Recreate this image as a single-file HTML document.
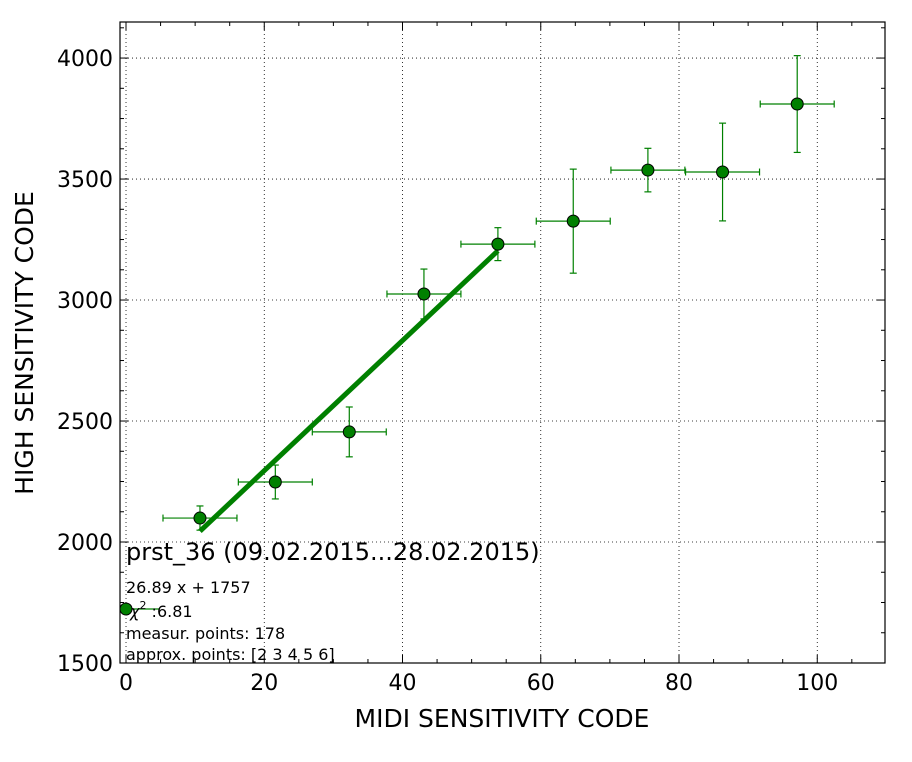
<!DOCTYPE html>
<html><head><meta charset="utf-8"><style>
body{margin:0;background:#fff;}
svg{display:block;font-family:"DejaVu Sans","Liberation Sans",sans-serif;}
</style></head><body>
<svg id="chart" width="912" height="762">
<rect width="912" height="762" fill="#fff"/>
<g id="grid"></g>
<g id="ticks"></g>
<g id="series"></g>
<rect x="120" y="22" width="765" height="641" fill="none" stroke="#000" stroke-width="1.2"/>
<text x="502" y="727" font-size="25" text-anchor="middle">MIDI SENSITIVITY CODE</text>
<text transform="translate(33,343) rotate(-90)" font-size="25" text-anchor="middle">HIGH SENSITIVITY CODE</text>
<g>
<text x="126" y="560" font-size="24">prst_36 (09.02.2015...28.02.2015)</text>
<text x="126" y="593" font-size="16">26.89 x + 1757</text>
<line x1="126" y1="609" x2="160" y2="609" stroke="#008000" stroke-width="1.2"/>
<circle cx="126" cy="609" r="6" fill="#008000" stroke="#000"/>
<text x="130" y="617" font-size="16"><tspan font-style="italic">χ</tspan><tspan dy="-8" font-size="11">2</tspan><tspan dy="8"> :6.81</tspan></text>
<text x="126" y="639" font-size="16">measur. points: 178</text>
<text x="126" y="660" font-size="16">approx. points: [2 3 4 5 6]</text>
</g>
</svg>
<script>
const xs=[10.7,21.6,32.3,43.1,53.8,64.7,75.5,86.3,97.1];
const ys=[2099,2248,2455,3025,3231,3326,3537,3529,3810];
const yerr=[50,70,103,103,68,215,90,202,200];
const xerr=[5.35,5.35,5.35,5.35,5.35,5.35,5.35,5.35,5.35];
const fitSlope=26.89, fitIntercept=1757;
const fitRange=[10.7,53.8];
const xTicks=[0,20,40,60,80,100];
const yTicks=[1500,2000,2500,3000,3500,4000];
const X0=120,X1=885,Y0=22,Y1=663,xmin=-0.87,xmax=109.8,ymin=1500,ymax=4149;
const sx=v=>X0+(v-xmin)/(xmax-xmin)*(X1-X0);
const sy=v=>Y1-(v-ymin)/(ymax-ymin)*(Y1-Y0);
const NS="http://www.w3.org/2000/svg";
function mk(parent,tag,attrs){const e=document.createElementNS(NS,tag);for(const k in attrs)e.setAttribute(k,attrs[k]);document.getElementById(parent).appendChild(e);return e;}
xTicks.forEach(t=>{
 const g=mk('grid','line',{x1:sx(t),x2:sx(t),y1:Y0,y2:Y1,stroke:'#000','stroke-width':0.8,'stroke-dasharray':'1,3'});
 
 
 const l=mk('ticks','text',{x:sx(t),y:Y1+27,'font-size':22,'text-anchor':'middle'});
 l.textContent=t;
 
 
});
yTicks.forEach(t=>{
 if(t>ymin){const g=mk('grid','line',{x1:X0,x2:X1,y1:sy(t),y2:sy(t),stroke:'#000','stroke-width':0.8,'stroke-dasharray':'1,3'});
 
 }
 const l=mk('ticks','text',{x:X0-7,y:sy(t)+8,'font-size':22,'text-anchor':'end'});
 l.textContent=t;
 
 
});
for(let v=0;v<=xmax;v+=5){const L=v%20===0?8:4;
 const a=mk('ticks','line',{x1:sx(v),x2:sx(v),y1:Y1,y2:Y1-L,stroke:'#000'});
 
 
 const b=mk('ticks','line',{x1:sx(v),x2:sx(v),y1:Y0,y2:Y0+L,stroke:'#000'});
 
 }
for(let v=1500;v<=ymax;v+=125){const L=v%500===0?8:4;
 const a=mk('ticks','line',{x1:X0,x2:X0+L,y1:sy(v),y2:sy(v),stroke:'#000'});
 
 
 const b=mk('ticks','line',{x1:X1,x2:X1-L,y1:sy(v),y2:sy(v),stroke:'#000'});
 
 }
xs.forEach((x,i)=>{
 const y=ys[i];
 const h=mk('series','line',{x1:sx(x-xerr[i]),x2:sx(x+xerr[i]),y1:sy(y),y2:sy(y),stroke:'#008000','stroke-width':1.2});
 
 
 [x-xerr[i],x+xerr[i]].forEach(c=>{const cp=mk('series','line',{x1:sx(c),x2:sx(c),y1:sy(y)-3.5,y2:sy(y)+3.5,stroke:'#008000','stroke-width':1.2});
  
  });
 const v=mk('series','line',{x1:sx(x),x2:sx(x),y1:sy(y-yerr[i]),y2:sy(y+yerr[i]),stroke:'#008000','stroke-width':1.2});
 
 
 [y-yerr[i],y+yerr[i]].forEach(c=>{const cp=mk('series','line',{x1:sx(x)-3.5,x2:sx(x)+3.5,y1:sy(c),y2:sy(c),stroke:'#008000','stroke-width':1.2});
  
  });
});
const fl=mk('series','line',{x1:sx(fitRange[0]),y1:sy(fitSlope*fitRange[0]+fitIntercept),x2:sx(fitRange[1]),y2:sy(fitSlope*fitRange[1]+fitIntercept),stroke:'#008000','stroke-width':5});


xs.forEach((x,i)=>{
 const c=mk('series','circle',{cx:sx(x),cy:sy(ys[i]),r:6,fill:'#008000',stroke:'#000','stroke-width':1});
 
 
});
</script>
</body></html>
